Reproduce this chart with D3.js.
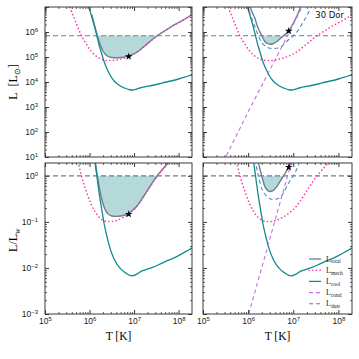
<!DOCTYPE html>
<html>
<head>
<meta charset="utf-8">
<script src="https://cdn.jsdelivr.net/npm/d3@7"></script>
<style>
  body { margin: 0; background: #fff; }
  svg { display: block; }
</style>
</head>
<body>
<div id="chart"></div>
<script>
// values, as log10 T [K] and log10 L [Lsun]
const coolLogT = [5.90, 5.97, 6.05, 6.10, 6.16, 6.22, 6.27, 6.33, 6.40, 6.47, 6.55, 6.62, 6.70, 6.80, 6.90, 6.96, 7.05, 7.15, 7.25, 7.40, 7.55, 7.70, 7.85, 8.00, 8.15, 8.31];
const coolLogL = [7.40, 7.08, 6.60, 6.30, 5.88, 5.45, 5.15, 4.80, 4.50, 4.25, 4.05, 3.93, 3.83, 3.75, 3.69, 3.68, 3.71, 3.77, 3.81, 3.86, 3.92, 3.99, 4.05, 4.12, 4.20, 4.29];

const mechLogT = [5.50, 5.56, 5.65, 5.73, 5.82, 5.94, 6.03, 6.12, 6.20, 6.30, 6.40, 6.50, 6.60, 6.72, 6.85, 6.95, 7.05, 7.15, 7.25, 7.35, 7.45, 7.55, 7.70, 7.85, 8.00, 8.15, 8.31];
const mechLogL = [7.25, 6.98, 6.58, 6.22, 5.85, 5.48, 5.25, 5.08, 4.97, 4.89, 4.86, 4.86, 4.88, 4.93, 5.00, 5.08, 5.17, 5.30, 5.45, 5.60, 5.75, 5.88, 6.05, 6.22, 6.37, 6.52, 6.70];

const condLogT = [5.45, 6.00, 6.50, 7.00, 7.40];
const condLogL = [0.80, 2.80, 4.55, 6.30, 7.75];

const dustLogT = [5.95, 6.00, 6.08, 6.15, 6.22, 6.30, 6.38, 6.45, 6.55, 6.67, 6.75, 6.82, 6.90, 7.00, 7.10, 7.22, 7.30, 7.37, 7.45];
const dustLogL = [7.10, 6.95, 6.55, 6.21, 5.88, 5.58, 5.44, 5.37, 5.34, 5.36, 5.43, 5.55, 5.70, 5.85, 6.05, 6.40, 6.65, 6.90, 7.15];

const totalLeftLogT = [6.05, 6.10, 6.15, 6.20, 6.25, 6.30, 6.36, 6.42, 6.50, 6.60, 6.70, 6.80, 6.88, 6.95, 7.05, 7.15, 7.25, 7.35, 7.45, 7.55, 7.70, 7.85, 8.00, 8.15, 8.31];
const totalLeftLogL = [6.70, 6.35, 6.02, 5.70, 5.45, 5.25, 5.10, 5.02, 4.98, 4.97, 4.98, 5.00, 5.03, 5.09, 5.18, 5.31, 5.46, 5.61, 5.76, 5.89, 6.06, 6.23, 6.38, 6.53, 6.71];

const totalRightLogT = [6.00, 6.03, 6.10, 6.15, 6.20, 6.26, 6.32, 6.37, 6.43, 6.48, 6.55, 6.63, 6.70, 6.77, 6.84, 6.90, 6.97, 7.03, 7.10, 7.18];
const totalRightLogL = [7.25, 7.08, 6.75, 6.55, 6.25, 6.01, 5.78, 5.62, 5.54, 5.51, 5.53, 5.61, 5.72, 5.83, 5.94, 6.04, 6.25, 6.45, 6.72, 7.08];

const starLeft = [6.88, 5.02];
const starRight = [6.90, 6.04];

const Lw = 7.1e5; // the dashed line, L_w in Lsun

const legendNames = ["total", "mech", "cool", "cond", "dust"];

const colors = {
  total: "#6f7f8e", mech: "#ff33aa", cool: "#108c8e", cond: "#c66ee6",
  dust: "#4a88c8", lw: "#6b7f95", fill: "#b5d9d9", frame: "#3a3a3a"
};
const dashes = { total: null, cool: null, mech: "0.1,3.6", cond: "4,3", dust: "4,3" };

const W = 359, H = 359;
const svg = d3.select("#chart").append("svg")
  .attr("width", W).attr("height", H)
  .style("font-family", "'DejaVu Sans', sans-serif");

const cols = [
  { x0: 45, x1: 192, total: [totalLeftLogT, totalLeftLogL], star: starLeft, extra: false },
  { x0: 203, x1: 352, total: [totalRightLogT, totalRightLogL], star: starRight, extra: true }
];
const rows = [
  { y0: 7, y1: 157, domain: [10, 1e7], ratio: false, labels: [1e1, 1e2, 1e3, 1e4, 1e5, 1e6], major: [1e1, 1e2, 1e3, 1e4, 1e5, 1e6, 1e7] },
  { y0: 163, y1: 314, domain: [1e-3, 1.9], ratio: true, labels: [1e-3, 1e-2, 1e-1, 1], major: [1e-3, 1e-2, 1e-1, 1] }
];
const xMajor = [1e5, 1e6, 1e7, 1e8];

function minorTicks(domain) {
  const out = [];
  const lo = Math.floor(Math.log10(domain[0])), hi = Math.ceil(Math.log10(domain[1]));
  for (let e = lo; e <= hi; e++) {
    for (let k = 2; k <= 9; k++) {
      const v = k * Math.pow(10, e);
      if (v > domain[0] && v < domain[1]) out.push(v);
    }
  }
  return out;
}

function sup(sel, v) {
  const e = Math.round(Math.log10(v));
  sel.text(null);
  sel.append("tspan").text("10");
  sel.append("tspan").attr("dy", "-0.5em").attr("font-size", "6px")
    .text(e < 0 ? "\u2212" + (-e) : String(e));
}

function pts(logT, logL, ratio) {
  return logT.map((t, i) => ({ T: Math.pow(10, t), L: Math.pow(10, logL[i]) / (ratio ? Lw : 1) }));
}

let clipId = 0;
rows.forEach((row, ri) => {
  cols.forEach((col, ci) => {
    const x = d3.scaleLog().domain([1e5, 2e8]).range([col.x0, col.x1]);
    const y = d3.scaleLog().domain(row.domain).range([row.y1, row.y0]);
    const ref = row.ratio ? 1 : Lw;

    const id = "clip" + (clipId++);
    svg.append("clipPath").attr("id", id).append("rect")
      .attr("x", col.x0).attr("y", row.y0)
      .attr("width", col.x1 - col.x0).attr("height", row.y1 - row.y0);
    const g = svg.append("g").attr("clip-path", "url(#" + id + ")");

    const line = d3.line().x(d => x(d.T)).y(d => y(d.L)).curve(d3.curveMonotoneX);

    // shaded region where L_total is below L_w
    const tot = pts(col.total[0], col.total[1], row.ratio);
    g.append("path").datum(tot)
      .attr("fill", colors.fill)
      .attr("d", d3.area().x(d => x(d.T)).y0(y(ref)).y1(d => y(Math.min(d.L, ref))).curve(d3.curveMonotoneX));

    // L_w line
    g.append("line")
      .attr("x1", col.x0).attr("x2", col.x1).attr("y1", y(ref)).attr("y2", y(ref))
      .attr("stroke", colors.lw).attr("stroke-width", 1.1).attr("stroke-dasharray", "5,3");

    const series = [
      ["total", col.total[0], col.total[1], 1.4],
      ["cool", coolLogT, coolLogL, 1.3],
      ["mech", mechLogT, mechLogL, 1.6]
    ];
    if (col.extra) {
      series.push(["cond", condLogT, condLogL, 1.1]);
      series.push(["dust", dustLogT, dustLogL, 1.1]);
    }
    series.forEach(([name, t, l, w]) => {
      g.append("path").datum(pts(t, l, row.ratio))
        .attr("fill", "none")
        .attr("stroke", colors[name])
        .attr("stroke-width", w)
        .attr("stroke-linecap", name === "mech" ? "round" : "butt")
        .attr("stroke-dasharray", dashes[name])
        .attr("d", line);
    });

    // star marker
    const s = pts([col.star[0]], [col.star[1]], row.ratio)[0];
    g.append("path")
      .attr("transform", "translate(" + x(s.T) + "," + y(s.L) + ")")
      .attr("d", d3.symbol(d3.symbolStar, 18)())
      .attr("fill", "#000");

    // frame
    svg.append("rect")
      .attr("x", col.x0).attr("y", row.y0)
      .attr("width", col.x1 - col.x0).attr("height", row.y1 - row.y0)
      .attr("fill", "none").attr("stroke", colors.frame).attr("stroke-width", 1);

    // ticks pointing inward on all four sides
    const axes = [
      [d3.axisBottom(x), "translate(0," + row.y1 + ")", xMajor, x.domain(), ri === 1],
      [d3.axisTop(x), "translate(0," + row.y0 + ")", xMajor, x.domain(), false],
      [d3.axisLeft(y), "translate(" + col.x0 + ",0)", row.major, row.domain, ci === 0],
      [d3.axisRight(y), "translate(" + col.x1 + ",0)", row.major, row.domain, false]
    ];
    axes.forEach(([ax, tr, major, dom, labelled], k) => {
      const minor = ax.scale().copy();
      const isLeft = k === 2;
      const gm = svg.append("g").attr("transform", tr)
        .call(ax.tickValues(major).tickSize(-4).tickPadding(isLeft ? 7 : 4)
          .tickFormat(labelled ? (d => d) : () => ""));
      gm.select(".domain").remove();
      gm.selectAll(".tick line").attr("stroke", colors.frame);
      if (labelled) {
        const lbl = isLeft ? row.labels : xMajor;
        gm.selectAll(".tick text")
          .attr("font-size", "8.5px").attr("fill", "#222")
          .each(function (d) {
            if (lbl.indexOf(d) < 0) { d3.select(this).remove(); return; }
            sup(d3.select(this), d);
          });
      }
      const axMinor = (k === 0 ? d3.axisBottom : k === 1 ? d3.axisTop : k === 2 ? d3.axisLeft : d3.axisRight)(minor)
        .tickValues(minorTicks(dom)).tickSize(-2).tickFormat(() => "");
      const gn = svg.append("g").attr("transform", tr).call(axMinor);
      gn.select(".domain").remove();
      gn.selectAll(".tick line").attr("stroke", colors.frame).attr("stroke-width", 0.8);
    });

    if (ri === 1) {
      svg.append("text")
        .attr("x", (col.x0 + col.x1) / 2).attr("y", 340)
        .attr("text-anchor", "middle")
        .style("font-family", "'Liberation Serif', serif").attr("font-size", "11.5px")
        .text("T [K]");
    }
  });
});

// y axis titles
const yl1 = svg.append("text")
  .attr("transform", "translate(17,82) rotate(-90)")
  .attr("text-anchor", "middle")
  .style("font-family", "'Liberation Serif', serif").attr("font-size", "12px");
yl1.append("tspan").text("L\u2002[L");
yl1.append("tspan").attr("dy", "2.5").attr("font-size", "8px").text("\u2299");
yl1.append("tspan").attr("dy", "-2.5").text("]");

const yl2 = svg.append("text")
  .attr("transform", "translate(17,240) rotate(-90)")
  .attr("text-anchor", "middle")
  .style("font-family", "'Liberation Serif', serif").attr("font-size", "12px");
yl2.append("tspan").text("L/L");
yl2.append("tspan").attr("dy", "2.5").attr("font-size", "8px").text("w");

// 30 Dor label
svg.append("text")
  .attr("x", 344).attr("y", 18)
  .attr("text-anchor", "end")
  .attr("font-size", "8.5px").attr("fill", "#111")
  .text("30 Dor");

// legend
const leg = svg.append("g");
legendNames.forEach((name, i) => {
  const yy = 259 + i * 11.2;
  leg.append("line")
    .attr("x1", 309).attr("x2", 321).attr("y1", yy).attr("y2", yy)
    .attr("stroke", colors[name])
    .attr("stroke-width", name === "total" || name === "cool" ? 1.3 : (name === "mech" ? 1.6 : 1.1))
    .attr("stroke-linecap", name === "mech" ? "round" : "butt")
    .attr("stroke-dasharray", dashes[name]);
  const t = leg.append("text")
    .attr("x", 326).attr("y", yy + 2.5)
    .style("font-family", "'Liberation Serif', serif").attr("font-size", "8px").attr("fill", "#222");
  t.append("tspan").text("L");
  t.append("tspan").attr("dy", "1.8").attr("font-size", "5.5px").text(name);
});
</script>
</body>
</html>
